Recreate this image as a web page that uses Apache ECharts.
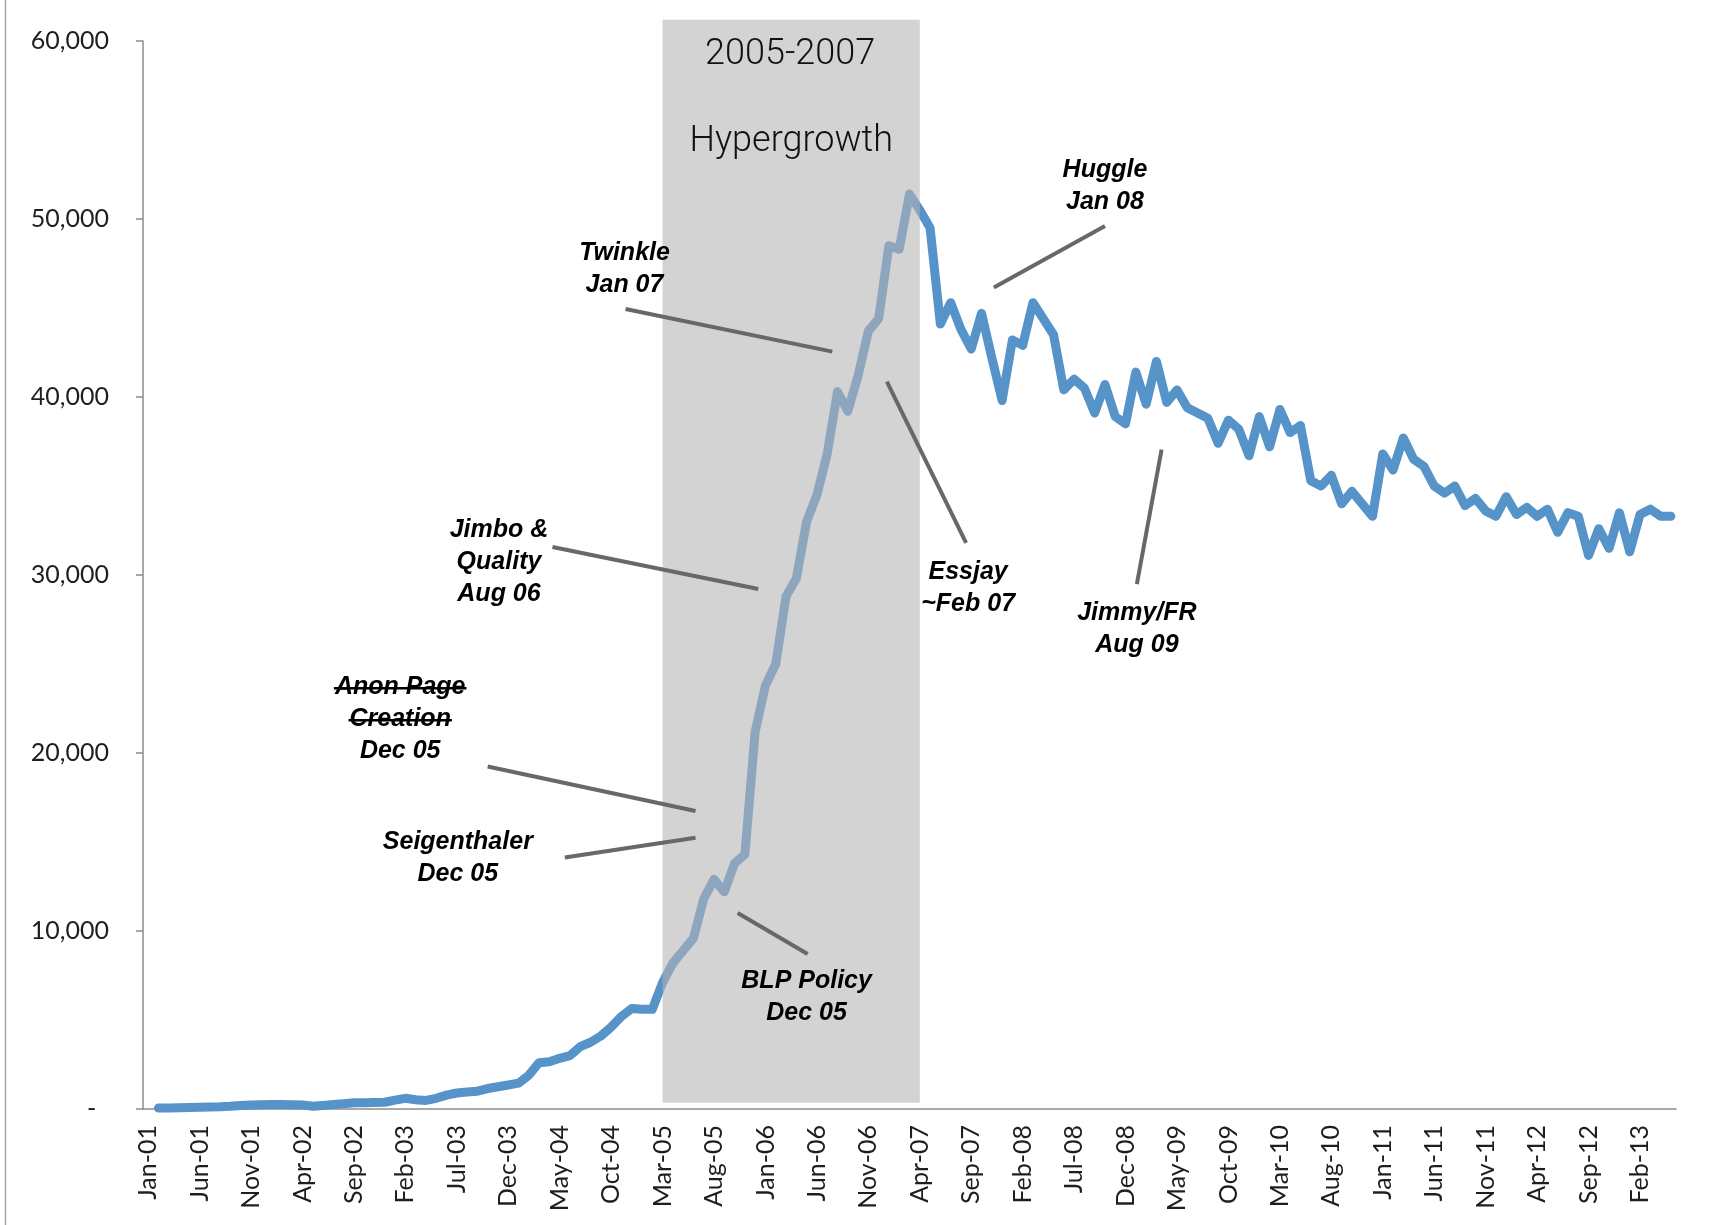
<!DOCTYPE html>
<html>
<head>
<meta charset="utf-8">
<script src="https://cdn.jsdelivr.net/npm/echarts@6/dist/echarts.min.js"></script>
<style>
  html, body { margin: 0; padding: 0; background: #fff; }
  #main { width: 1712px; height: 1225px; }
</style>
</head>
<body>
<div id="main"></div>
<script>
// monthly labels Jan-01 .. May-13
var monthNames = ['Jan', 'Feb', 'Mar', 'Apr', 'May', 'Jun', 'Jul', 'Aug', 'Sep', 'Oct', 'Nov', 'Dec'];
var firstYear = 2001;
var monthCount = 149;

// active editors per month (Jan-01 has no point)
var editors = [
    null, 50, 60, 70, 80, 100, 110, 120, 150, 200, 230, 240,              // 2001
    250, 250, 240, 230, 150, 200, 250, 300, 350, 350, 360, 380,           // 2002
    500, 600, 520, 480, 600, 780, 900, 950, 1000, 1150, 1250, 1350,       // 2003
    1450, 1900, 2600, 2650, 2850, 3000, 3500, 3750, 4100, 4600, 5200, 5650, // 2004
    5600, 5600, 7100, 8200, 8900, 9600, 11800, 12900, 12200, 13800, 14300, 21200, // 2005
    23800, 25000, 28800, 29800, 33000, 34500, 36800, 40300, 39200, 41200, 43700, 44400, // 2006
    48500, 48300, 51400, 50500, 49500, 44100, 45300, 43800, 42700, 44700, 42200, 39800, // 2007
    43200, 42900, 45300, 44400, 43500, 40400, 41000, 40500, 39100, 40700, 38900, 38500, // 2008
    41400, 39600, 42000, 39700, 40400, 39400, 39100, 38800, 37400, 38700, 38200, 36700, // 2009
    38900, 37200, 39300, 38000, 38400, 35300, 35000, 35600, 34000, 34700, 34000, 33300, // 2010
    36800, 35900, 37700, 36500, 36100, 35000, 34600, 35000, 33900, 34300, 33600, 33300, // 2011
    34400, 33400, 33800, 33300, 33700, 32400, 33500, 33300, 31100, 32600, 31500, 33500, // 2012
    31300, 33400, 33700, 33300, 33300                                      // 2013
];

var yTicks = [0, 10000, 20000, 30000, 40000, 50000, 60000];

// shaded period (month index from Jan-01) and its vertical extent
var bandMonths = [50, 75];
var bandValues = [350, 61200];
var bandTitle = ['2005-2007', 'Hypergrowth'];
var bandTitleAt = [[62.4, 59200], [62.5, 54300]];

// call-outs: text block centre, leader line from/to (month index, value)
var notes = [
    { text: ['Twinkle', 'Jan 07'], at: [46.3, 47180], from: [46.4, 44940], to: [66.5, 42550] },
    { text: ['Huggle', 'Jan 08'], at: [93.0, 51850], from: [93.0, 49600], to: [82.2, 46150] },
    { text: ['Jimbo &', 'Quality', 'Aug 06'], at: [34.1, 30720], from: [39.3, 31570], to: [59.3, 29210] },
    { text: ['Anon Page', 'Creation', 'Dec 05'], strike: [0, 1], at: [24.5, 21900], from: [33.0, 19240], to: [53.2, 16740] },
    { text: ['Seigenthaler', 'Dec 05'], at: [30.1, 14120], from: [40.5, 14130], to: [53.2, 15240] },
    { text: ['BLP Policy', 'Dec 05'], at: [64.0, 6280], from: [57.3, 11010], to: [64.1, 8710] },
    { text: ['Essjay', '~Feb 07'], at: [79.7, 29260], from: [71.8, 40870], to: [79.5, 31800] },
    { text: ['Jimmy/FR', 'Aug 09'], at: [96.1, 26960], from: [98.5, 37040], to: [96.1, 29490] }
];

var months = [];
for (var k = 0; k < monthCount; k++) {
    var yy = (firstYear + Math.floor(k / 12)) % 100;
    months.push(monthNames[k % 12] + '-' + (yy < 10 ? '0' + yy : '' + yy));
}

var chart = echarts.init(document.getElementById('main'));

var axisColor = '#8c8c8c';
var option = {
    backgroundColor: '#fff',
    animation: false,
    grid: { left: 143, right: 36, top: 41, bottom: 116 },
    xAxis: {
        type: 'category',
        data: months,
        boundaryGap: true,
        axisLine: { lineStyle: { color: axisColor, width: 1.5 } },
        axisTick: { interval: 4, length: 7, lineStyle: { color: axisColor, width: 1.5 } },
        axisLabel: {
            interval: 4,
            rotate: 90,
            margin: 16,
            fontFamily: 'Lato',
            fontSize: 25,
            color: '#1e1e1e'
        },
        splitLine: { show: false }
    },
    yAxis: {
        type: 'value',
        min: yTicks[0],
        max: yTicks[yTicks.length - 1],
        interval: yTicks[1] - yTicks[0],
        axisLine: { show: true, lineStyle: { color: axisColor, width: 1.5 } },
        axisTick: { show: true, length: 7, lineStyle: { color: axisColor, width: 1.5 } },
        axisLabel: {
            margin: 34,
            fontFamily: 'Lato',
            fontSize: 25,
            color: '#1e1e1e',
            formatter: function(v) {
                return v === 0 ? '-  ' : v.toLocaleString('en-US');
            }
        },
        splitLine: { show: false }
    },
    series: [{
        name: 'Editors',
        type: 'line',
        data: editors,
        symbol: 'none',
        connectNulls: false,
        z: 2,
        lineStyle: { color: '#5693c9', width: 9, cap: 'round', join: 'round' }
    }]
};
chart.setOption(option);

// annotations are placed through the axes' own conversion
function buildGraphic() {
    var x0 = chart.convertToPixel({ xAxisIndex: 0 }, 0);
    var x1 = chart.convertToPixel({ xAxisIndex: 0 }, 1);
    var step = x1 - x0;
    function P(i, v) {
        return [x0 + step * i, chart.convertToPixel({ yAxisIndex: 0 }, v)];
    }
    var els = [];

    // thin frame line at the far left of the picture
    els.push({
        type: 'line', z: 1,
        shape: { x1: 5.5, y1: 0, x2: 5.5, y2: 1225 },
        style: { stroke: '#a6a6a6', lineWidth: 1.5 }
    });

    var a = P(bandMonths[0], bandValues[1]);
    var b = P(bandMonths[1], bandValues[0]);
    els.push({
        type: 'rect', z: 10, silent: true,
        shape: { x: a[0], y: a[1], width: b[0] - a[0], height: b[1] - a[1] },
        style: { fill: 'rgba(181,181,181,0.59)' }
    });

    bandTitle.forEach(function(t, n) {
        var p = P(bandTitleAt[n][0], bandTitleAt[n][1]);
        els.push({
            type: 'text', z: 20, x: p[0], y: p[1],
            style: {
                text: t, fill: '#111', fontFamily: 'Roboto', fontWeight: 300,
                fontSize: 36, align: 'center', verticalAlign: 'middle'
            }
        });
    });

    var fontSize = 25, lineH = 32;
    var ctx = document.createElement('canvas').getContext('2d');
    ctx.font = 'italic bold ' + fontSize + 'px "Liberation Sans"';

    notes.forEach(function(n) {
        var f = P(n.from[0], n.from[1]);
        var t = P(n.to[0], n.to[1]);
        els.push({
            type: 'line', z: 20,
            shape: { x1: f[0], y1: f[1], x2: t[0], y2: t[1] },
            style: { stroke: '#686868', lineWidth: 4 }
        });
        var c = P(n.at[0], n.at[1]);
        els.push({
            type: 'text', z: 20, x: c[0], y: c[1],
            style: {
                text: n.text.join('\n'), fill: '#000',
                fontFamily: 'Liberation Sans', fontWeight: 'bold', fontStyle: 'italic',
                fontSize: fontSize, lineHeight: lineH,
                align: 'center', verticalAlign: 'middle'
            }
        });
        (n.strike || []).forEach(function(li) {
            var w = ctx.measureText(n.text[li]).width;
            var ly = c[1] + (li - (n.text.length - 1) / 2) * lineH + 1;
            els.push({
                type: 'line', z: 21,
                shape: { x1: c[0] - w / 2 - 1, y1: ly, x2: c[0] + w / 2 + 1, y2: ly },
                style: { stroke: '#000', lineWidth: 2.5 }
            });
        });
    });
    return els;
}

chart.setOption({ graphic: buildGraphic() });
</script>
</body>
</html>
